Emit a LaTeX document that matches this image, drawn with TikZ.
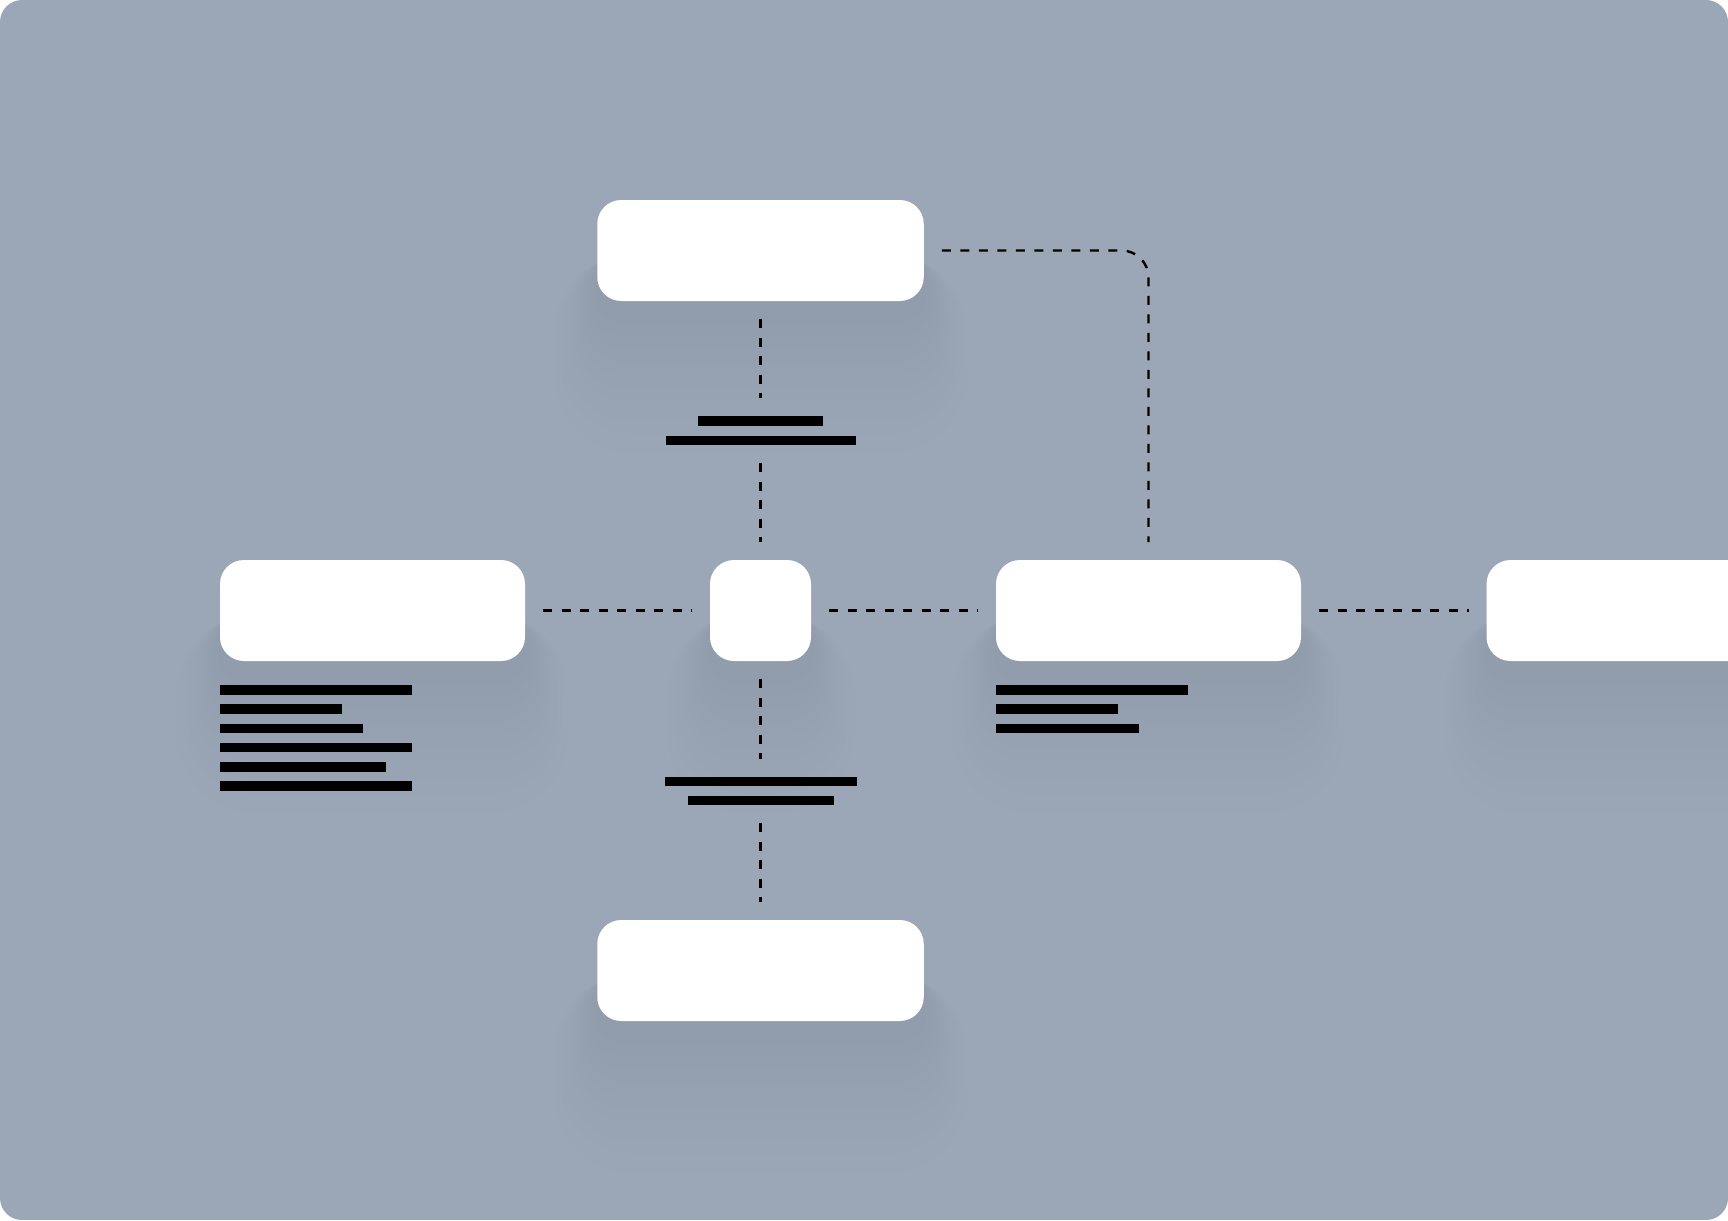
\documentclass[tikz,border=0pt]{standalone}
\begin{document}
\definecolor{bgc}{RGB}{155,167,182}
\definecolor{shc}{RGB}{40,52,75}
\tikzset{
  card/.style={fill=white, rounded corners=24pt, minimum height=101pt, inner sep=0pt, outer sep=0pt},
  link/.style={draw=black, line width=2.4pt, dash pattern=on 9pt off 9.5pt, shorten <=18pt, shorten >=18pt},
  txtbar/.style={fill=black, inner sep=0pt, outer sep=0pt, minimum height=9.6pt, anchor=north west},
  capbar/.style={fill=black, inner sep=0pt, outer sep=0pt, minimum height=9.6pt, anchor=north},
}
\newcommand\cardshadow[4]{%
  \foreach \e [count=\k] in {115,110,...,0}{%
    \pgfmathsetmacro\rr{24+0.5*\e}%
    \pgfmathsetmacro\ff{9*(\k/24)^1.3}%
    \fill[shc!\ff!bgc, rounded corners=\rr pt]
      ({#1-0.40*\e},{#2+55}) rectangle ({#3+0.40*\e},{#4+15+1.3*\e});
  }%
}
\begin{tikzpicture}[x=1pt,y=-1pt]
\useasboundingbox (0,0) rectangle (1728,1220);
\fill[white] (0,0) rectangle (1728,1220);
\begin{scope}
\clip[rounded corners=22pt] (0,0) rectangle (1728,1220);
\fill[bgc] (0,0) rectangle (1728,1220);
% shadows
\cardshadow{597}{200}{924}{301}
\cardshadow{220}{560}{525}{661}
\cardshadow{710}{560}{811}{661}
\cardshadow{996}{560}{1301}{661}
\cardshadow{1487}{560}{1792}{661}
\cardshadow{597}{920}{924}{1021}
% cards
\node[card, minimum width=326.5pt] (top) at (760.5,250.5) {};
\node[card, minimum width=305pt] (left) at (372.5,610.5) {};
\node[card, minimum width=101pt] (mid) at (760.5,610.5) {};
\node[card, minimum width=305pt] (right) at (1148.5,610.5) {};
\node[card, minimum width=305pt] (far) at (1639,610.5) {};
\node[card, minimum width=326.5pt] (bottom) at (760.5,970.5) {};
% cap bars
\node[capbar, minimum width=125pt] (capA) at (760.5,416) {};
\node[capbar, minimum width=190pt] (capB) at (760.5,435.5) {};
\node[capbar, minimum width=192pt] (capC) at (760.5,776.7) {};
\node[capbar, minimum width=146pt] (capD) at (760.5,795.8) {};
% text bars left
\node[txtbar, minimum width=192pt] (l1) at (220,685) {};
\node[txtbar, minimum width=122pt] (l2) at (220,704.3) {};
\node[txtbar, minimum width=143pt] (l3) at (220,723.6) {};
\node[txtbar, minimum width=192pt] (l4) at (220,742.8) {};
\node[txtbar, minimum width=166pt] (l5) at (220,762) {};
\node[txtbar, minimum width=192pt] (l6) at (220,781.2) {};
% text bars right
\node[txtbar, minimum width=192pt] (r1) at (996,685) {};
\node[txtbar, minimum width=122pt] (r2) at (996,704.3) {};
\node[txtbar, minimum width=143pt] (r3) at (996,723.6) {};
% connectors
\draw[link] (top.south) -- (capA.north);
\draw[link] (capB.south) -- (mid.north);
\draw[link] (mid.south) -- (capC.north);
\draw[link] (capD.south) -- (bottom.north);
\draw[link] (left.east) -- (mid.west);
\draw[link] (mid.east) -- (right.west);
\draw[link] (right.east) -- (far.west);
\draw[link, rounded corners=27pt] (top.east) -| (right.north);
\end{scope}
\end{tikzpicture}
\end{document}
